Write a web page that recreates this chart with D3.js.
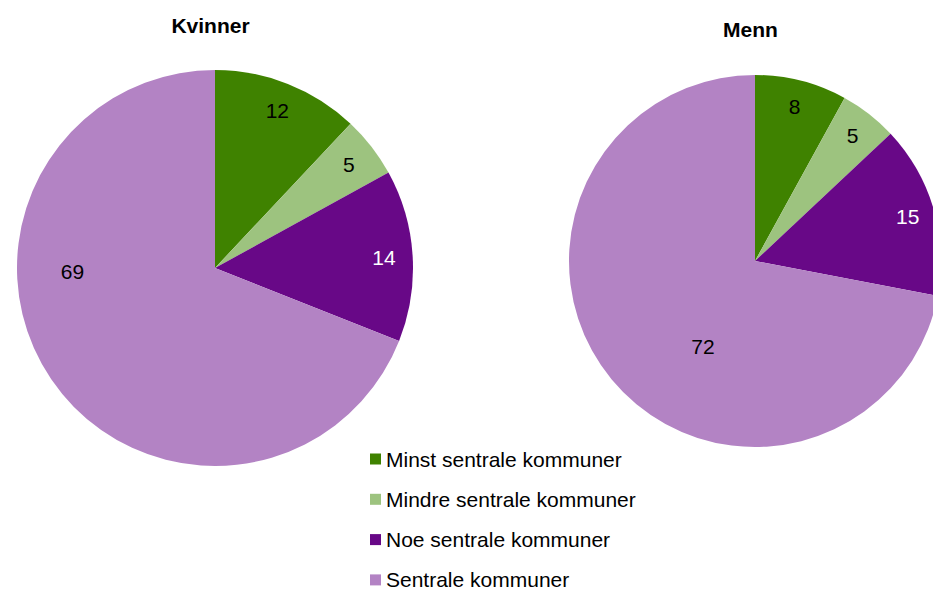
<!DOCTYPE html>
<html>
<head>
<meta charset="utf-8">
<script src="https://cdn.jsdelivr.net/npm/d3@7"></script>
<style>
  body { margin: 0; background: #fff; }
  svg { display: block; font-family: "Liberation Sans", Arial, sans-serif; }
</style>
</head>
<body>
<div id="chart"></div>
<script>
// data
const categories = ["Minst sentrale kommuner", "Mindre sentrale kommuner", "Noe sentrale kommuner", "Sentrale kommuner"];
const kvinner = [12, 5, 14, 69];
const menn = [8, 5, 15, 72];
const titles = ["Kvinner", "Menn"];

const colors = ["#3f8200", "#9dc37f", "#680887", "#b383c4"];
const labelColors = ["#000", "#000", "#fff", "#000"];

const width = 933, height = 590;

// layout for each pie (big slice label is placed off the centroid like excel does)
const pies = [
  { title: titles[0], values: kvinner, cx: 215, cy: 268, r: 198, titleY: 33, bigAngle: 268.4, bigFrac: 0.72 },
  { title: titles[1], values: menn, cx: 755, cy: 261, r: 186, titleY: 37, bigAngle: 211.2, bigFrac: 0.54 }
];

const svg = d3.select('#chart').append('svg')
    .attr('width', width)
    .attr('height', height);

const pie = d3.pie().sort(null).value(d => d);
const color = d3.scaleOrdinal().domain(d3.range(categories.length)).range(colors);

pies.forEach(p => {
    const g = svg.append('g').attr('transform', `translate(${p.cx},${p.cy})`);
    const arc = d3.arc().innerRadius(0).outerRadius(p.r);
    const labelArc = d3.arc().innerRadius(p.r * 0.855).outerRadius(p.r * 0.855);
    const arcs = pie(p.values);
    const maxV = d3.max(p.values);

    g.selectAll('path')
        .data(arcs)
        .enter()
        .append('path')
        .attr('d', arc)
        .attr('fill', (d, i) => color(i));

    g.selectAll('text.lbl')
        .data(arcs)
        .enter()
        .append('text')
        .attr('class', 'lbl')
        .attr('transform', d => {
            if (d.data === maxV) {
                const a = p.bigAngle * Math.PI / 180;
                const rr = p.r * p.bigFrac;
                return `translate(${rr * Math.sin(a)},${-rr * Math.cos(a)})`;
            }
            return `translate(${labelArc.centroid(d)})`;
        })
        .attr('text-anchor', 'middle')
        .attr('dy', '0.35em')
        .attr('font-size', 21)
        .attr('fill', (d, i) => labelColors[i])
        .text(d => d.data);

    svg.append('text')
        .attr('x', p.cx - 4.5)
        .attr('y', p.titleY)
        .attr('text-anchor', 'middle')
        .attr('font-size', 21)
        .attr('font-weight', 'bold')
        .text(p.title);
});

// legend
const legend = svg.selectAll('g.legend')
    .data(categories)
    .enter()
    .append('g')
    .attr('class', 'legend')
    .attr('transform', (d, i) => `translate(370,${459.5 + i * 40.3})`);

legend.append('rect')
    .attr('x', 0)
    .attr('y', -6)
    .attr('width', 11)
    .attr('height', 11)
    .attr('fill', (d, i) => color(i));

legend.append('text')
    .attr('x', 16)
    .attr('y', 7)
    .attr('font-size', 21)
    .attr('fill', '#000')
    .text(d => d);
</script>
</body>
</html>
